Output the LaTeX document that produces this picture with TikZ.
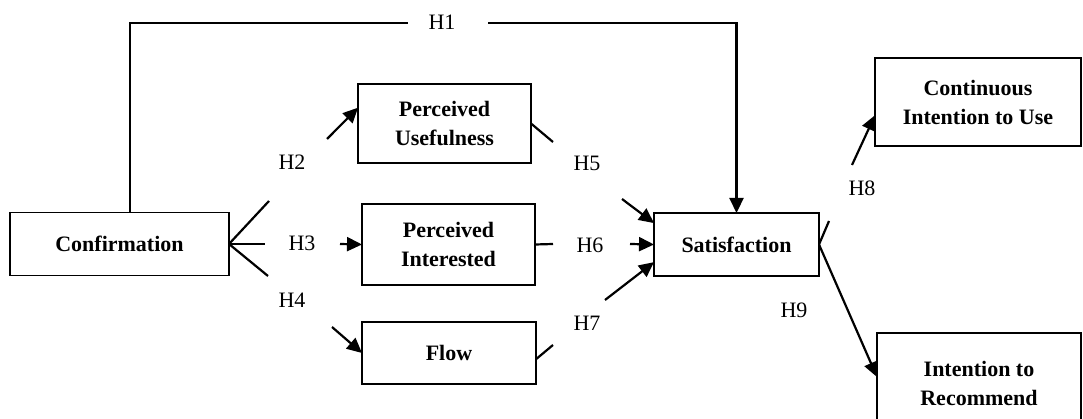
\documentclass[tikz,border=0pt]{standalone}
\usepackage{fontspec}
\setmainfont{Liberation Serif}
\usetikzlibrary{arrows.meta,calc}
\begin{document}
\begin{tikzpicture}[x=1pt,y=-1pt,
  box/.style={draw,line width=1.8pt,inner sep=0pt,outer sep=0pt,align=center,
    font=\fontsize{22}{29}\selectfont\bfseries},
  lab/.style={font=\fontsize{22}{25}\selectfont,inner sep=0pt},
  conn/.style={line width=2.2pt},
  arr/.style={conn,-{Triangle[length=15pt,width=14pt]}}]
\fill[white] (0,0) rectangle (1083,419);
\clip (0,0) rectangle (1083,419);
% boxes
\node[box,minimum width=219pt,minimum height=63pt] (conf) at (119.5,244) {Confirmation};
\node[box,minimum width=173pt,minimum height=79pt] (pu) at (444.5,123.5) {Perceived\\Usefulness};
\node[box,minimum width=173pt,minimum height=81pt] (pi) at (448.5,244.5) {Perceived\\Interested};
\node[box,minimum width=174pt,minimum height=62pt] (flow) at (449,353) {Flow};
\node[box,minimum width=165pt,minimum height=63pt] (sat) at (736.5,244.5) {Satisfaction};
\node[box,minimum width=206pt,minimum height=88pt] (ciu) at (978,102) {Continuous\\Intention to Use};
\node[box,minimum width=204pt,minimum height=100pt] (itr) at (979,383) {Intention to\\Recommend};
% labels
\node[lab] (h1) at (442,22) {H1};
\node[lab] (h2) at (292,162) {H2};
\node[lab] (h3) at (302,243) {H3};
\node[lab] (h4) at (292,300) {H4};
\node[lab] (h5) at (587,163) {H5};
\node[lab] (h6) at (590,245) {H6};
\node[lab] (h7) at (587,323) {H7};
\node[lab] (h8) at (862,188) {H8};
\node[lab] (h9) at (794,310) {H9};
% coordinates for broken connectors
\coordinate (h1a) at (130,23);
\coordinate (h1l) at (408,23);
\coordinate (h1r) at (488,23);
\coordinate (c2a) at (269,201);
\coordinate (c2b) at (327,139);
\coordinate (c3a) at (265,244);
\coordinate (c3b) at (340,244);
\coordinate (c4a) at (268,276);
\coordinate (c4b) at (332,327);
\coordinate (c5a) at (553,142);
\coordinate (c5b) at (622,199);
\coordinate (c6a) at (553,244);
\coordinate (c6b) at (630,244);
\coordinate (c7a) at (553,345);
\coordinate (c7b) at (605,300);
\coordinate (c8a) at (829,221);
\coordinate (c8b) at (852,165);
% H1
\draw[conn] (conf.north -| h1a) -- (h1a) -- (h1l);
\draw[arr] (h1r) -| (sat.north);
% H2-H4
\draw[conn] (conf.east) -- (c2a);
\draw[arr] (c2b) -- ($(pu.north west)!0.3!(pu.south west)$);
\draw[conn] (conf.east) -- (c3a);
\draw[arr] (c3b) -- (pi.west);
\draw[conn] (conf.east) -- (c4a);
\draw[arr] (c4b) -- (flow.west);
% H5-H7
\draw[conn] (pu.east) -- (c5a);
\draw[arr] (c5b) -- ($(sat.north west)!0.16!(sat.south west)$);
\draw[conn] (pi.east) -- (c6a);
\draw[arr] (c6b) -- (sat.west);
\draw[conn] ($(flow.north east)!0.6!(flow.south east)$) -- (c7a);
\draw[arr] (c7b) -- ($(sat.north west)!0.78!(sat.south west)$);
% H8-H9
\draw[conn] (sat.east) -- (c8a);
\draw[arr] (c8b) -- ($(ciu.north west)!0.65!(ciu.south west)$);
\draw[arr] (sat.east) -- ($(itr.north west)!0.44!(itr.south west)$);
\end{tikzpicture}
\end{document}
